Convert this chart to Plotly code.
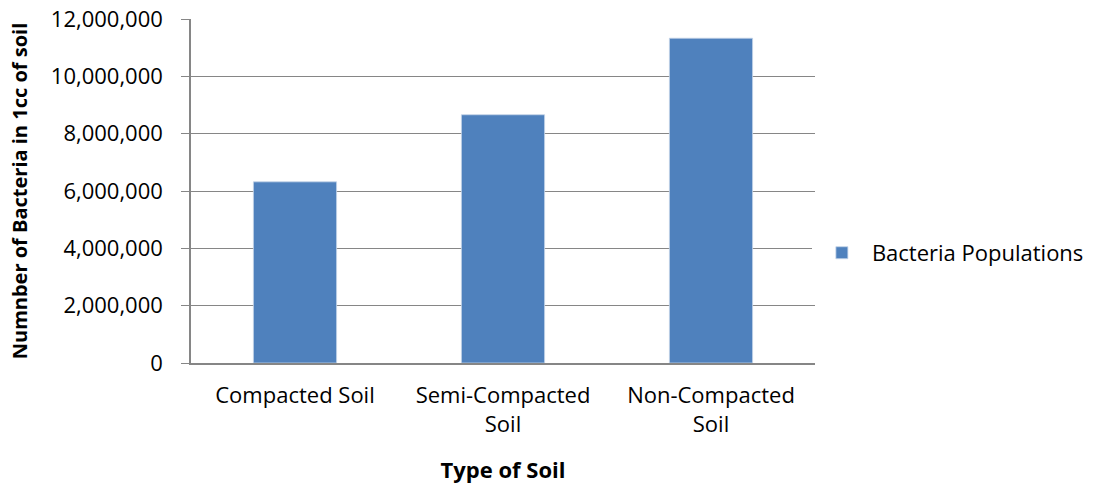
import plotly.graph_objects as go

categories = ["Compacted Soil", "Semi-Compacted<br>Soil", "Non-Compacted<br>Soil"]
values = [6320000, 8660000, 11330000]
series_name = "Bacteria Populations"
y_ticks = [0, 2000000, 4000000, 6000000, 8000000, 10000000, 12000000]

FONT = "Open Sans"

fig = go.Figure()
fig.add_trace(go.Bar(
    x=categories, y=values, name=series_name,
    marker=dict(color="#4F81BD", line=dict(color="#C5D4E8", width=0.8)),
    showlegend=True,
))

fig.update_layout(
    width=1117, height=487,
    margin=dict(l=191, r=302, t=19, b=124),
    paper_bgcolor="white", plot_bgcolor="white",
    font=dict(family=FONT, size=22, color="#000000"),
    bargap=0.6,
    showlegend=True,
    legend=dict(x=0.995, y=0.32, xanchor="left", yanchor="middle",
                font=dict(family=FONT, size=22, color="#000000"),
                itemwidth=50),
)
fig.update_xaxes(
    showline=True, linecolor="#868686", linewidth=1.5,
    ticks="", showgrid=False,
    tickfont=dict(family=FONT, size=22),
    ticklabelstandoff=12,
    title=dict(text="<b>Type of Soil</b>", font=dict(family=FONT, size=22), standoff=26),
    automargin=False,
)
fig.update_yaxes(
    range=[0, 12000000], tickvals=y_ticks, tickformat=",",
    showgrid=True, gridcolor="#868686", gridwidth=1.2,
    showline=True, linecolor="#868686", linewidth=1.5,
    ticks="outside", ticklen=8, tickcolor="#868686",
    ticklabelstandoff=14, ticklabeloverflow="allow",
    tickfont=dict(family=FONT, size=22),
    title=dict(text="<b>Numnber of Bacteria in 1cc of soil</b>", font=dict(family=FONT, size=20), standoff=18),
    zeroline=False,
    automargin=False,
)

fig.write_html("out.html", config={"displayModeBar": False},
               post_script="document.body.style.margin='0';")
